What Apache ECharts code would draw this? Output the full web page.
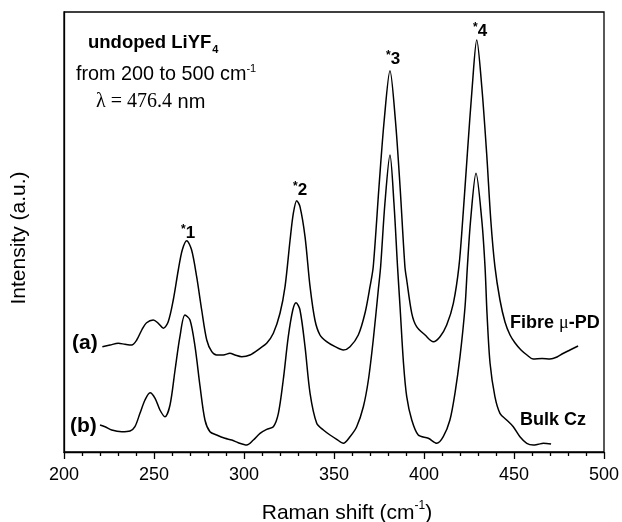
<!DOCTYPE html>
<html>
<head>
<meta charset="utf-8">
<script src="https://cdn.jsdelivr.net/npm/echarts@6/dist/echarts.min.js"></script>
<style>
html,body{margin:0;padding:0;background:#fff;}
#c{width:622px;height:522px;}
</style>
</head>
<body>
<div id="c"></div>
<script>
// Raman shift (cm^-1) and intensity (a.u.) for (a) Fibre µ-PD
const shiftA = [221.3,225.6,230.2,233.9,237.6,240.4,243.2,245.9,249.6,252.4,255.2,257.9,260.7,263.5,265.7,268.2,270.9,273.7,276.5,279.3,282.1,284.8,288.5,292.2,295.0,298.7,303.3,308.9,312.6,316.3,320.0,322.8,325.6,327.4,329.3,331.1,333.9,336.7,339.4,342.2,345.9,350.6,355.2,358.9,363.5,367.2,370.0,371.8,375.0,377.9,381.1,384.1,386.7,389.4,390.4,393.2,395.9,400.6,405.2,408.9,412.6,416.3,419.4,421.5,424.1,426.8,429.3,432.1,434.8,437.1,439.4,442.2,445.0,447.8,450.6,453.9,457.2,460.6,465.6,470.0,473.9,477.2,481.1,485.6];
const intensityA = [105.3,107,108.7,107.7,107,112,122,129.3,132,128.7,123.7,130.3,152,182,202,211.3,202,175.3,142,112,100.3,97,97,98.7,97,95.3,97,103.7,108.7,118.7,138.7,165.3,212,238.7,251.3,245.3,215.3,165.3,132,117,110.3,105.3,102,105.3,117,138.7,165.3,185.3,265.3,332,381.3,332,265.3,185.3,172,138.7,125.3,117,110.3,115.3,127,148.7,185.3,232,298.7,365.3,412,365.3,298.7,232,185.3,152,130,117,109,102,97,93,93.5,93,95,98.5,102,106];
// (b) Bulk Cz
const shiftB = [220.0,222.8,226.5,232.1,236.7,239.4,242.2,245.0,247.8,250.6,253.3,256.1,258.9,261.7,264.4,267.2,270.0,272.8,275.6,278.3,281.1,284.8,289.4,293.2,296.8,301.5,305.2,308.9,312.6,316.3,319.1,321.8,324.6,327.1,328.9,331.1,333.9,336.7,340.4,344.1,347.8,351.5,355.2,358.9,362.6,366.3,369.1,371.8,374.6,375.9,378.3,381.1,383.3,385.3,386.7,388.6,390.4,393.2,396.8,402.4,407.1,410.7,414.4,417.2,420.0,422.8,424.1,425.9,428.9,432.1,433.9,435.0,436.7,439.4,442.2,445.9,449.6,453.3,457.1,460.7,463.5,466.3,470.6];
const intensityB = [27,25.3,22,20.3,21,25.3,38.7,52,59.3,53.7,42,35.3,47,82,115.3,137,132,105.3,65.3,32,20.3,17,13.7,12,9.3,7,12,18.7,22.7,25.3,38.7,72,115.3,142,149.3,142,105.3,58.7,28.7,22,17,12.7,8.7,15.3,25.3,45.3,72,112,162,185.3,249,297,249,185.3,145,89,55.3,32,17,13.7,8.7,15.3,32,58.7,95.3,145.3,185.3,232,278.7,232,185.3,138.7,88.7,55.3,38.7,32,25.3,15.3,8.7,7,7.7,8.7,8];
const xTickLabels = ['200','250','300','350','400','450','500'];
const peakLabels = ['1','2','3','4'];

function pairs(xs, ys){ return xs.map((x,i)=>[x, ys[i]]); }

const chart = echarts.init(document.getElementById('c'), null, {renderer:'canvas'});
const FONT = 'Liberation Sans, Arial, sans-serif';
const SERIF = 'Liberation Serif, Times New Roman, serif';

function starLabel(n, x, y){
  return {type:'text', x:x, y:y, style:{text:'{s|*}{b|'+n+'}', rich:{s:{fontSize:12, fontWeight:'bold', fontFamily:FONT, fill:'#000', padding:[0,0,6,0]}, b:{fontSize:17, fontWeight:'bold', fontFamily:FONT, fill:'#000'}}, verticalAlign:'middle', align:'left'}};
}

chart.setOption({
  animation:false,
  backgroundColor:'#fff',
  grid:{left:64, right:18, top:12, bottom:70, show:true, borderColor:'#000', borderWidth:1.3, containLabel:false, outerBoundsMode:'none'},
  xAxis:{
    type:'value', min:200, max:500, interval:50,
    name:'Raman shift (cm{sup|-1})', nameLocation:'middle', nameGap:48,
    nameTextStyle:{fontSize:21, fontFamily:FONT, color:'#000', padding:[0,0,0,26], rich:{sup:{fontSize:12, fontFamily:FONT, color:'#000', padding:[0,0,14,0]}}},
    axisLine:{lineStyle:{color:'#000', width:1.3}},
    axisTick:{show:true, inside:false, length:7, lineStyle:{color:'#000', width:1.3}},
    minorTick:{show:true, splitNumber:5, length:4, lineStyle:{color:'#000', width:1.3}},
    axisLabel:{fontSize:18, fontFamily:FONT, color:'#000', margin:14, formatter:function(v){ const i = xTickLabels.indexOf(String(v)); return i>=0 ? xTickLabels[i] : ''; }},
    splitLine:{show:false}
  },
  yAxis:{
    type:'value', min:0, max:440,
    name:'Intensity (a.u.)', nameLocation:'middle', nameGap:34,
    nameTextStyle:{fontSize:21, fontFamily:FONT, color:'#000', padding:[0,12,0,0]},
    axisLine:{show:true, lineStyle:{color:'#000', width:1.3}},
    axisTick:{show:false}, axisLabel:{show:false}, splitLine:{show:false}
  },
  series:[
    {type:'line', name:'Fibre', data:pairs(shiftA, intensityA), showSymbol:false, smooth:0.3, lineStyle:{color:'#000', width:1.5}},
    {type:'line', name:'Bulk', data:pairs(shiftB, intensityB), showSymbol:false, smooth:0.3, lineStyle:{color:'#000', width:1.5}}
  ],
  graphic:[
    {type:'text', x:88, y:43, style:{text:'{b|undoped LiYF}{s|4}', rich:{b:{fontSize:18.5, fontWeight:'bold', fontFamily:FONT, fill:'#000'}, s:{fontSize:11, fontWeight:'bold', fontFamily:FONT, fill:'#000', padding:[13,0,0,1]}}, verticalAlign:'middle'}},
    {type:'text', x:76, y:75, style:{text:'{n|from 200 to 500 cm}{s|-1}', rich:{n:{fontSize:19.8, fontFamily:FONT, fill:'#000'}, s:{fontSize:11, fontFamily:FONT, fill:'#000', padding:[0,0,13,0]}}, verticalAlign:'middle'}},
    {type:'text', x:96, y:102, style:{text:'{t|λ = 476.4}{n| nm}', rich:{t:{fontSize:20, fontFamily:SERIF, fill:'#000'}, n:{fontSize:20, fontFamily:FONT, fill:'#000'}}, verticalAlign:'middle'}},
    starLabel(peakLabels[0], 181, 233),
    starLabel(peakLabels[1], 293, 190),
    starLabel(peakLabels[2], 386, 59),
    starLabel(peakLabels[3], 473, 31),
    {type:'text', x:72, y:343, style:{text:'(a)', font:'bold 21px '+FONT, fill:'#000', verticalAlign:'middle'}},
    {type:'text', x:70, y:426, style:{text:'(b)', font:'bold 21px '+FONT, fill:'#000', verticalAlign:'middle'}},
    {type:'text', x:510, y:323, style:{text:'{b|Fibre }{m|μ}{b|-PD}', rich:{b:{fontSize:18, fontWeight:'bold', fontFamily:FONT, fill:'#000'}, m:{fontSize:18, fontFamily:SERIF, fill:'#000'}}, verticalAlign:'middle'}},
    {type:'text', x:520, y:420, style:{text:'Bulk Cz', font:'bold 18px '+FONT, fill:'#000', verticalAlign:'middle'}}
  ]
});
</script>
</body>
</html>
